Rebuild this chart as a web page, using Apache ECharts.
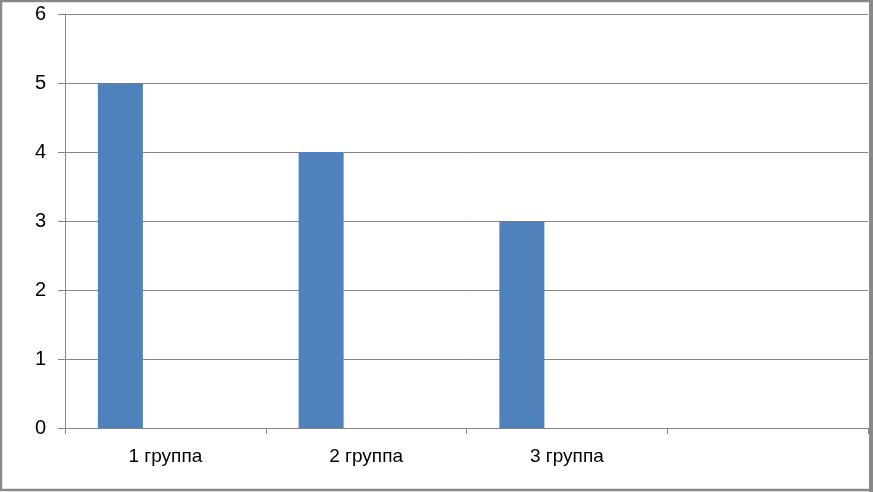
<!DOCTYPE html>
<html>
<head>
<meta charset="utf-8">
<script src="https://cdn.jsdelivr.net/npm/echarts@6/dist/echarts.min.js"></script>
<style>
html,body{margin:0;padding:0;background:#fff;}
#c{width:873px;height:492px;}
</style>
</head>
<body>
<div id="c"></div>
<script>
const categories = ['1 группа', '2 группа', '3 группа', ''];
const series1 = [5, 4, 3, null];
const series2 = [null, null, null, null];
const series3 = [null, null, null, null];
const yTicks = [0, 1, 2, 3, 4, 5, 6];

const gray = '#868686';
const chart = echarts.init(document.getElementById('c'));
chart.setOption({
  animation: false,
  backgroundColor: '#fff',
  grid: { left: 65, right: 5, top: 14, bottom: 64 },
  graphic: [{
    type: 'rect',
    shape: { x: 1, y: 1, width: 869.5, height: 489 },
    style: { fill: 'none', stroke: '#888888', lineWidth: 2.5 },
    z: 100
  }, {
    type: 'rect',
    shape: { x: 869, y: 0, width: 4, height: 492 },
    style: { fill: '#888888' },
    z: 100
  }],
  xAxis: {
    type: 'category',
    data: categories,
    boundaryGap: true,
    axisLine: { lineStyle: { color: gray, width: 1 } },
    axisTick: { show: true, length: 6, lineStyle: { color: gray } },
    axisLabel: { color: '#000', fontFamily: 'Liberation Sans', fontSize: 19, margin: 19 }
  },
  yAxis: {
    type: 'value',
    min: yTicks[0],
    max: yTicks[yTicks.length - 1],
    interval: 1,
    axisLine: { show: true, lineStyle: { color: gray, width: 1 } },
    axisTick: { show: true, length: 7, lineStyle: { color: gray } },
    axisLabel: { color: '#000', fontFamily: 'Liberation Sans', fontSize: 20, margin: 19 },
    splitLine: { show: true, lineStyle: { color: gray, width: 1 } }
  },
  series: [
    { type: 'bar', data: series1, barWidth: 45, barGap: '0%', itemStyle: { color: '#4F81BD' } },
    { type: 'bar', data: series2, barWidth: 45, barGap: '0%', itemStyle: { color: '#C0504D' } },
    { type: 'bar', data: series3, barWidth: 45, barGap: '0%', itemStyle: { color: '#9BBB59' } }
  ]
});
</script>
</body>
</html>
